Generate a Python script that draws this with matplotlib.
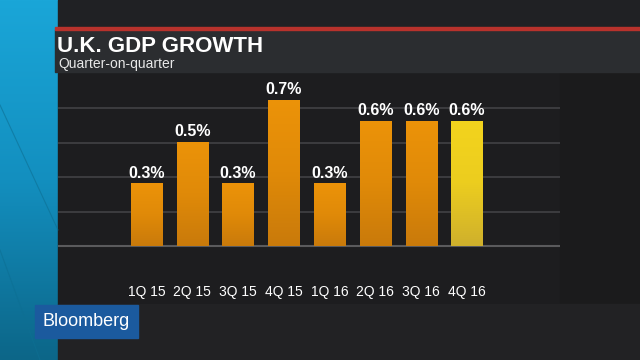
import numpy as np
import matplotlib.pyplot as plt
from matplotlib.patches import Rectangle
from matplotlib.colors import LinearSegmentedColormap

quarters = ['1Q 15', '2Q 15', '3Q 15', '4Q 15', '1Q 16', '2Q 16', '3Q 16', '4Q 16']
growth = [0.3, 0.5, 0.3, 0.7, 0.3, 0.6, 0.6, 0.6]
labels = ['0.3%', '0.5%', '0.3%', '0.7%', '0.3%', '0.6%', '0.6%', '0.6%']
highlight = '4Q 16'

W, H = 640, 360
fig = plt.figure(figsize=(6.4, 3.6), dpi=100)
fig.patch.set_facecolor('#1f2022')

# background in pixel coordinates
bg = fig.add_axes([0, 0, 1, 1])
bg.set_xlim(0, W)
bg.set_ylim(H, 0)
bg.axis('off')

# cyan strip on the left, darker towards the bottom
cyan = LinearSegmentedColormap.from_list('cyan', ['#1aa6d8', '#138fbf', '#0c6688'])
grad = np.linspace(0, 1, 256).reshape(-1, 1)
bg.imshow(grad, cmap=cyan, extent=(0, 58, H, 0), aspect='auto', zorder=1)
bg.plot([0, 58], [105, 230], color='#0d6f93', lw=0.8, alpha=0.6, zorder=2)
bg.plot([0, 40], [250, 360], color='#0d6f93', lw=0.8, alpha=0.6, zorder=2)

# top area, title band and red rule
bg.add_patch(Rectangle((58, 0), W - 58, 28, color='#202124', zorder=1))
bg.add_patch(Rectangle((55, 30), W - 55, 42, color='#2b2d30', zorder=3))
bg.add_patch(Rectangle((55, 27), W - 55, 3, color='#b8322c', zorder=4))
# chart panel and surroundings
bg.add_patch(Rectangle((58, 73), 502, 231, color='#1d1d1f', zorder=1))
bg.add_patch(Rectangle((560, 73), 80, 231, color='#1b1b1c', zorder=1))
bg.add_patch(Rectangle((58, 304), W - 58, 56, color='#222224', zorder=1))

bg.text(57, 46, 'U.K. GDP GROWTH', color='white', fontsize=16, fontweight='bold',
        family='Liberation Sans', va='center', ha='left', zorder=5)
bg.text(58, 64, 'Quarter-on-quarter', color='#e8e8e8', fontsize=10,
        family='Liberation Sans', va='center', ha='left', zorder=5)

# Bloomberg logo
bg.add_patch(Rectangle((35, 305), 103, 33, color='#1b5a9e', zorder=5))
bg.text(42, 322, 'Bloomberg', color='white', fontsize=13, family='Liberation Sans',
        va='center', ha='left', zorder=6)

# chart axes
ax = fig.add_axes([58 / W, 1 - 303 / H, 502 / W, 230 / H])
ax.set_xlim(-1.93, 9.03)
ax.set_ylim(-0.273, 0.828)
ax.axis('off')

for g in [0.165, 0.33, 0.495, 0.66]:
    ax.axhline(g, color='#3f3f42', lw=1.3, zorder=1)
ax.axhline(0, color='#5a5a5c', lw=1.5, zorder=1)

x = np.arange(len(quarters))
bars = ax.bar(x, growth, width=0.68, color='none', zorder=2)
orange = LinearSegmentedColormap.from_list('o', ['#ec9309', '#e08a08', '#c97a0b'])
yellow = LinearSegmentedColormap.from_list('y', ['#f3d41d', '#eccd1f', '#cfb02c'])
for q, b in zip(quarters, bars):
    cm = yellow if q == highlight else orange
    x0, w, h = b.get_x(), b.get_width(), b.get_height()
    im = ax.imshow(grad, cmap=cm, extent=(x0, x0 + w, 0, h), aspect='auto', zorder=2)
    im.set_clip_path(b)

for i, (v, lab) in enumerate(zip(growth, labels)):
    ax.text(i, v + 0.012, lab, color='white', fontsize=11.5, fontweight='bold',
            family='Liberation Sans', ha='center', va='bottom', zorder=3)
    ax.text(i, -0.22, quarters[i], color='white', fontsize=10,
            family='Liberation Sans', ha='center', va='center', zorder=3)

fig.savefig('out.png', dpi=100, facecolor=fig.get_facecolor())
